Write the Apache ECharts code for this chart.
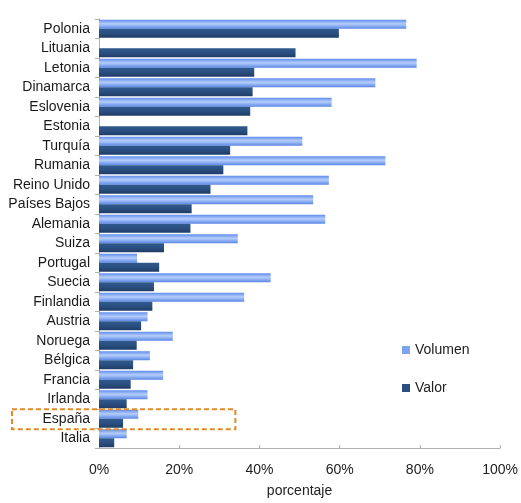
<!DOCTYPE html>
<html>
<head>
<meta charset="utf-8">
<script src="https://cdn.jsdelivr.net/npm/echarts@6/dist/echarts.min.js"></script>
<style>
html,body{margin:0;padding:0;background:#fff;}
#chart{width:521px;height:503px;}
</style>
</head>
<body>
<div id="chart"></div>
<script>
const categories = ['Polonia','Lituania','Letonia','Dinamarca','Eslovenia','Estonia','Turquía','Rumania','Reino Unido','Países Bajos','Alemania','Suiza','Portugal','Suecia','Finlandia','Austria','Noruega','Bélgica','Francia','Irlanda','España','Italia'];
const volumen = [76.6, 0, 79.2, 68.9, 58.0, 0, 50.7, 71.4, 57.3, 53.4, 56.4, 34.6, 9.5, 42.8, 36.2, 12.1, 18.4, 12.7, 16.0, 12.1, 9.8, 6.9];
const valor = [59.8, 49.0, 38.7, 38.3, 37.7, 37.0, 32.7, 31.0, 27.8, 23.1, 22.8, 16.2, 15.0, 13.7, 13.3, 10.5, 9.4, 8.5, 7.9, 6.9, 6.0, 3.8];
const xTicks = [0, 20, 40, 60, 80, 100];
const highlight = 'España';
const highlightRight = 34;

const font = 'Liberation Sans, Arial, sans-serif';
const chart = echarts.init(document.getElementById('chart'));
const volGrad = new echarts.graphic.LinearGradient(0,0,0,1,[
  {offset:0,color:'#5f8ded'},{offset:0.45,color:'#b5cdfa'},{offset:0.6,color:'#9dbcf6'},{offset:1,color:'#5a86e6'}]);
const valGrad = new echarts.graphic.LinearGradient(0,0,0,1,[
  {offset:0,color:'#2f5a8e'},{offset:0.5,color:'#2a4f80'},{offset:1,color:'#1f3c66'}]);
chart.setOption({
  animation:false,
  grid:{left:99,right:19,top:19,bottom:48,containLabel:false},
  legend:{
    orient:'vertical', left:397, top:338, itemGap:24,
    icon:'rect', itemWidth:8, itemHeight:8,
    textStyle:{fontFamily:font,fontSize:14,color:'#222'},
    data:[{name:'Volumen',itemStyle:{color:'#7ea3f0'}},{name:'Valor',itemStyle:{color:'#2a4f80'}}]
  },
  xAxis:{
    type:'value', min:0, max:100, interval:20,
    name:'porcentaje', nameLocation:'middle', nameGap:36,
    nameTextStyle:{fontFamily:font,fontSize:14,color:'#222'},
    axisLine:{show:true,lineStyle:{color:'#b0b0b0'}},
    axisTick:{show:true,inside:true,length:3,lineStyle:{color:'#b0b0b0'}},
    splitLine:{show:false},
    axisLabel:{fontFamily:font,fontSize:14,color:'#222',margin:15,
      formatter:v=> xTicks.includes(v) ? v+'%' : ''}
  },
  yAxis:{
    type:'category', data:categories, inverse:true,
    axisLine:{show:true,lineStyle:{color:'#b0b0b0'}},
    axisTick:{show:true,length:4,lineStyle:{color:'#b0b0b0'}},
    axisLabel:{fontFamily:font,fontSize:14,color:'#1a1a1a',margin:9}
  },
  series:[
    {name:'Volumen',type:'bar',data:volumen,barWidth:9,barGap:'0%',itemStyle:{color:volGrad}},
    {name:'Valor',type:'bar',data:valor,barWidth:9,barGap:'0%',itemStyle:{color:valGrad}}
  ]
});
const yc = chart.convertToPixel({yAxisIndex:0}, highlight);
const xr = chart.convertToPixel({xAxisIndex:0}, highlightRight);
chart.setOption({graphic:[{
  type:'rect', shape:{x:12,y:yc-9.5,width:xr-12,height:20},
  style:{fill:'none',stroke:'#e08a2a',lineWidth:2,lineDash:[5,3]}, z:100
}]});
</script>
</body>
</html>
